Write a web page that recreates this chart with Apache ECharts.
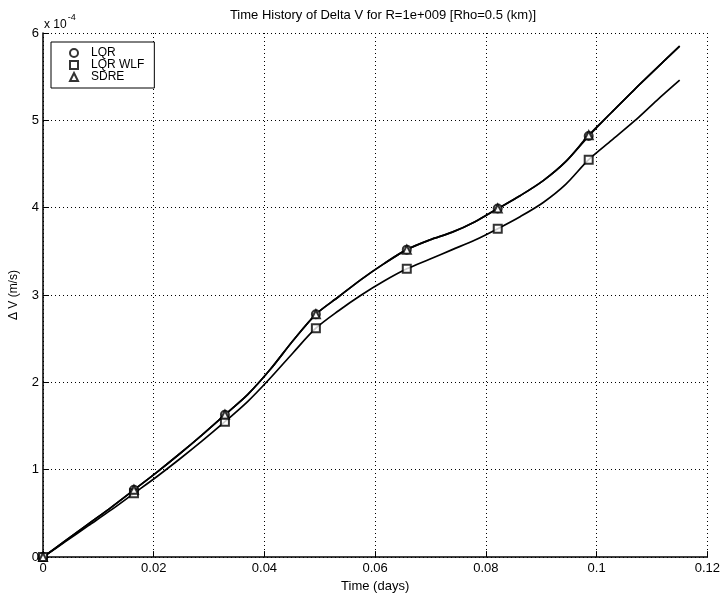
<!DOCTYPE html>
<html>
<head>
<meta charset="utf-8">
<script src="https://cdn.jsdelivr.net/npm/echarts@6/dist/echarts.min.js"></script>
<style>
html,body{margin:0;padding:0;background:#fff;}
#chart{width:723px;height:598px;}
</style>
</head>
<body>
<div id="chart"></div>
<script>
// Time in days (dense sampling of the simulated curves)
var timeDays = [0, 0.00411, 0.00821, 0.01232, 0.01643, 0.02054, 0.02464, 0.02875, 0.03286,
  0.03696, 0.04107, 0.04518, 0.04929, 0.05339, 0.0575, 0.06161, 0.06571, 0.06982,
  0.07393, 0.07804, 0.08214, 0.08625, 0.09036, 0.09446, 0.09857, 0.10268, 0.10679,
  0.11089, 0.115];
// Delta V in units of 1e-4 m/s
var lqr = [0, 0.19, 0.38, 0.57, 0.77, 0.97, 1.18, 1.40, 1.63, 1.86, 2.15, 2.48, 2.78, 2.98,
  3.18, 3.36, 3.52, 3.63, 3.72, 3.84, 3.99, 4.14, 4.31, 4.53, 4.82, 5.09, 5.35, 5.60, 5.85];
var lqrWlf = [0, 0.18, 0.36, 0.54, 0.73, 0.92, 1.12, 1.33, 1.55, 1.78, 2.05, 2.34, 2.62, 2.82,
  3.00, 3.16, 3.30, 3.41, 3.52, 3.63, 3.76, 3.90, 4.06, 4.27, 4.55, 4.77, 4.99, 5.23, 5.46];
var sdre = [0, 0.19, 0.38, 0.57, 0.77, 0.97, 1.18, 1.40, 1.63, 1.86, 2.15, 2.48, 2.78, 2.98,
  3.18, 3.36, 3.52, 3.63, 3.72, 3.84, 3.99, 4.14, 4.31, 4.53, 4.83, 5.09, 5.35, 5.60, 5.85];
var markerEvery = 4;
var lastMarkerIndex = 24;
var seriesNames = ['LQR', 'LQR WLF', 'SDRE'];
var seriesSymbols = ['emptyCircle', 'emptyRect', 'emptyTriangle'];
var titleText = 'Time History of Delta V for R=1e+009 [Rho=0.5 (km)]';

var FONT = '"Liberation Sans", Arial, Helvetica, sans-serif';
function pairs(ys) { return timeDays.map(function (t, i) { return [t, ys[i]]; }); }
function markers(ys) {
  var out = [];
  for (var i = 0; i <= lastMarkerIndex; i += markerEvery) out.push([timeDays[i], ys[i]]);
  return out;
}
var allY = [lqr, lqrWlf, sdre];
var series = [];
allY.forEach(function (ys, k) {
  series.push({
    name: seriesNames[k] + ' line', type: 'line', data: pairs(ys), showSymbol: false,
    smooth: 0.3, lineStyle: { color: '#000', width: 1.7 }, itemStyle: { color: '#000' },
    silent: true, z: 2
  });
});
allY.forEach(function (ys, k) {
  series.push({
    name: seriesNames[k], type: 'scatter', data: markers(ys), symbol: seriesSymbols[k],
    symbolSize: 8, itemStyle: { color: '#000', borderColor: '#000', borderWidth: 1.3 }, z: 3
  });
});

var chart = echarts.init(document.getElementById('chart'), null, { renderer: 'canvas' });
chart.setOption({
  animation: false,
  backgroundColor: '#fff',
  title: {
    text: titleText, left: 378, top: 4, textAlign: 'center',
    textStyle: { fontFamily: FONT, fontSize: 13, fontWeight: 'normal', color: '#000' }
  },
  grid: { left: 43, right: 14, top: 33, bottom: 36, containLabel: false },
  legend: {
    data: seriesNames, orient: 'vertical', left: 51, top: 42,
    itemWidth: 8, itemHeight: 8, itemGap: 0, symbolKeepAspect: true,
    padding: [5, 10, 5, 18], borderColor: '#000', borderWidth: 1, backgroundColor: '#fff',
    textStyle: { fontFamily: FONT, fontSize: 12, lineHeight: 12, color: '#000', padding: [0, 0, 0, 8] },
    selectedMode: false
  },
  xAxis: {
    type: 'value', min: 0, max: 0.12, interval: 0.02,
    name: 'Time (days)', nameLocation: 'middle', nameGap: 19,
    nameTextStyle: { fontFamily: FONT, fontSize: 13, color: '#000' },
    axisLine: { show: true, onZero: false, lineStyle: { color: '#000', width: 1.5 } },
    axisTick: { show: true, inside: true, length: 6, lineStyle: { color: '#000' } },
    axisLabel: { margin: 5, fontFamily: FONT, fontSize: 13, color: '#000',
      formatter: function (v) { return String(+v.toFixed(2)); } },
    splitLine: { show: true, lineStyle: { color: '#000', width: 1, type: [1, 3] } }
  },
  yAxis: {
    type: 'value', min: 0, max: 6, interval: 1,
    name: '\u0394 V (m/s)', nameLocation: 'middle', nameGap: 23, nameRotate: 90,
    nameTextStyle: { fontFamily: FONT, fontSize: 12, color: '#000' },
    axisLine: { show: true, onZero: false, lineStyle: { color: '#000', width: 1.5 } },
    axisTick: { show: true, inside: true, length: 6, lineStyle: { color: '#000' } },
    axisLabel: { margin: 4, fontFamily: FONT, fontSize: 13, color: '#000' },
    splitLine: { show: true, lineStyle: { color: '#000', width: 1, type: [1, 3] } }
  },
  graphic: [{
    type: 'text', left: 44, top: 13,
    style: {
      text: '{a|x 10}{b|-4}', fontFamily: FONT,
      rich: {
        a: { fontFamily: FONT, fontSize: 12, color: '#000', verticalAlign: 'bottom', padding: [6, 0, 0, 0] },
        b: { fontFamily: FONT, fontSize: 9, color: '#000', verticalAlign: 'top', padding: [0, 0, 8, 1] }
      }
    }
  }],
  series: series
});
</script>
</body>
</html>
